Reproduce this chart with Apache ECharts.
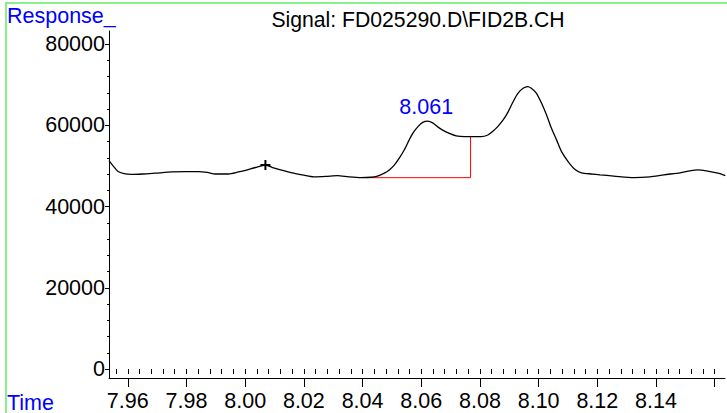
<!DOCTYPE html>
<html>
<head>
<meta charset="utf-8">
<script src="https://cdn.jsdelivr.net/npm/echarts@6/dist/echarts.min.js"></script>
<style>
html,body{margin:0;padding:0;background:#fff;}
#chart{width:727px;height:413px;}
</style>
</head>
<body>
<div id="chart"></div>
<script>
// ---- data ----
var times = [7.9536,7.9550,7.9567,7.9587,7.9611,7.9652,7.9693,7.9751,7.9796,7.9840,7.9871,7.9898,7.9943,7.9977,8.0001,8.0035,8.0069,8.0097,8.0121,8.0165,8.0200,8.0233,8.0275,8.0315,8.0353,8.0394,8.0428,8.0451,8.0474,8.0491,8.0508,8.0525,8.0542,8.0559,8.0571,8.0588,8.0605,8.0622,8.0639,8.0656,8.0673,8.0696,8.0719,8.0747,8.0770,8.0804,8.0827,8.0844,8.0862,8.0879,8.0896,8.0913,8.0930,8.0947,8.0962,8.0975,8.0992,8.1010,8.1027,8.1044,8.1061,8.1078,8.1101,8.1123,8.1146,8.1181,8.1209,8.1256,8.1324,8.1379,8.1427,8.1482,8.1540,8.1584,8.1618,8.1636];
var responses = [51300,50000,48600,48100,47900,48000,48200,48500,48600,48600,48400,48000,48000,48500,48900,49600,50200,49500,49000,48200,47700,47300,47400,47600,47300,47100,47200,47500,48200,49000,50200,51900,53900,56400,58000,59600,60700,61000,60600,59600,58800,58000,57400,57200,57200,57200,57600,58500,59800,61300,63300,65800,67900,69100,69500,69100,67900,65400,62500,59200,56400,53500,51000,49200,48300,48000,47800,47500,47100,47300,47800,48300,49000,48600,48100,47600];
var baselineTimes = [8.0415, 8.0768, 8.0768];
var baselineResp = [47100, 47100, 57200];
var markerPoint = [8.0069, 50200];
var peakLabelPoint = [8.0617, 61000];
var peakLabelText = '8.061';
var xMajorTicks = [7.96,7.98,8.00,8.02,8.04,8.06,8.08,8.10,8.12,8.14,8.16];
var xTickLabels = [7.96,7.98,8.00,8.02,8.04,8.06,8.08,8.10,8.12,8.14];
var yTickLabels = [0,20000,40000,60000,80000];
var titleText = 'Signal: FD025290.D\\FID2B.CH';
var yName = 'Response_';
var xName = 'Time';

var xMinor = [];
for (var i = 0; i <= 51; i++) xMinor.push(+(7.956 + i * 0.004).toFixed(3));
var yMinor = [];
for (var j = 0; j <= 20; j++) yMinor.push(j * 4000);

var FONT = 'Liberation Sans, Arial, sans-serif';
var FS = 21.5;
var X_MIN = 7.9536, X_MAX = 8.1635, Y_MIN = -2215, Y_MAX = 83200;

function zip(a, b) { return a.map(function (v, k) { return [v, b[k]]; }); }

var chart = echarts.init(document.getElementById('chart'), null, {renderer: 'svg'});
var lineCol = '#000';
var option = {
  animation: false,
  backgroundColor: '#fff',
  grid: {left: 109, right: 2, top: 31, bottom: 35, containLabel: false},
  xAxis: [{
    type: 'value', min: X_MIN, max: X_MAX, position: 'bottom',
    axisLine: {show: true, onZero: false, lineStyle: {color: lineCol, width: 1}},
    axisTick: {show: true, length: 9, customValues: xMajorTicks, lineStyle: {color: lineCol}},
    axisLabel: {show: true, customValues: xTickLabels, margin: 12, color: '#000', fontSize: FS, fontFamily: FONT,
      formatter: function (v) { return v.toFixed(2); }},
    splitLine: {show: false}
  }, {
    type: 'value', min: X_MIN, max: X_MAX, position: 'bottom',
    axisLine: {show: false},
    axisTick: {show: true, length: 5, customValues: xMinor, lineStyle: {color: lineCol}},
    axisLabel: {show: false},
    splitLine: {show: false}
  }],
  yAxis: [{
    type: 'value', min: Y_MIN, max: Y_MAX, position: 'left',
    axisLine: {show: true, onZero: false, lineStyle: {color: lineCol, width: 1}},
    axisTick: {show: true, length: 4, customValues: yTickLabels, lineStyle: {color: lineCol}},
    axisLabel: {show: true, customValues: yTickLabels, margin: 4, color: '#000', fontSize: FS, fontFamily: FONT,
      formatter: function (v) { return String(v); }},
    splitLine: {show: false}
  }, {
    type: 'value', min: Y_MIN, max: Y_MAX, position: 'left',
    axisLine: {show: false},
    axisTick: {show: true, length: 2, customValues: yMinor, lineStyle: {color: lineCol}},
    axisLabel: {show: false},
    splitLine: {show: false}
  }],
  series: [{
    type: 'line', data: zip(times, responses), showSymbol: false, smooth: 0.25,
    lineStyle: {color: '#000', width: 1.3}, itemStyle: {color: '#000'}, z: 3
  }, {
    type: 'line', data: zip(baselineTimes, baselineResp), showSymbol: false,
    lineStyle: {color: '#ff0000', width: 1}, itemStyle: {color: '#ff0000'}, z: 2
  }, {
    type: 'scatter', data: [markerPoint], symbol: 'path://M4,0h2v10h-2zM0,4h10v2h-10z', symbolSize: 10,
    itemStyle: {color: '#000', opacity: 1}, z: 4
  }, {
    type: 'scatter', data: [peakLabelPoint], symbolSize: 0, itemStyle: {color: '#0000ff', opacity: 1},
    label: {show: true, position: 'top', distance: 3, formatter: peakLabelText, color: '#0000ff', opacity: 1, fontSize: FS, fontFamily: FONT},
    z: 5
  }],
  graphic: [{
    type: 'rect', silent: true, shape: {x: 6, y: 3, width: 900, height: 600},
    style: {fill: 'none', stroke: '#88f088', lineWidth: 2}
  }, {
    type: 'text', x: 7, y: 15.5,
    style: {text: yName, fill: '#0000ff', font: FS + 'px ' + FONT, textVerticalAlign: 'middle', textAlign: 'left'}
  }, {
    type: 'text', x: 7, y: 402.5,
    style: {text: xName, fill: '#0000ff', font: FS + 'px ' + FONT, textVerticalAlign: 'middle', textAlign: 'left'}
  }, {
    type: 'text', x: 418, y: 19,
    style: {text: titleText, fill: '#000', font: '21.2px ' + FONT, textVerticalAlign: 'middle', textAlign: 'center'}
  }]
};
chart.setOption(option);
</script>
</body>
</html>
